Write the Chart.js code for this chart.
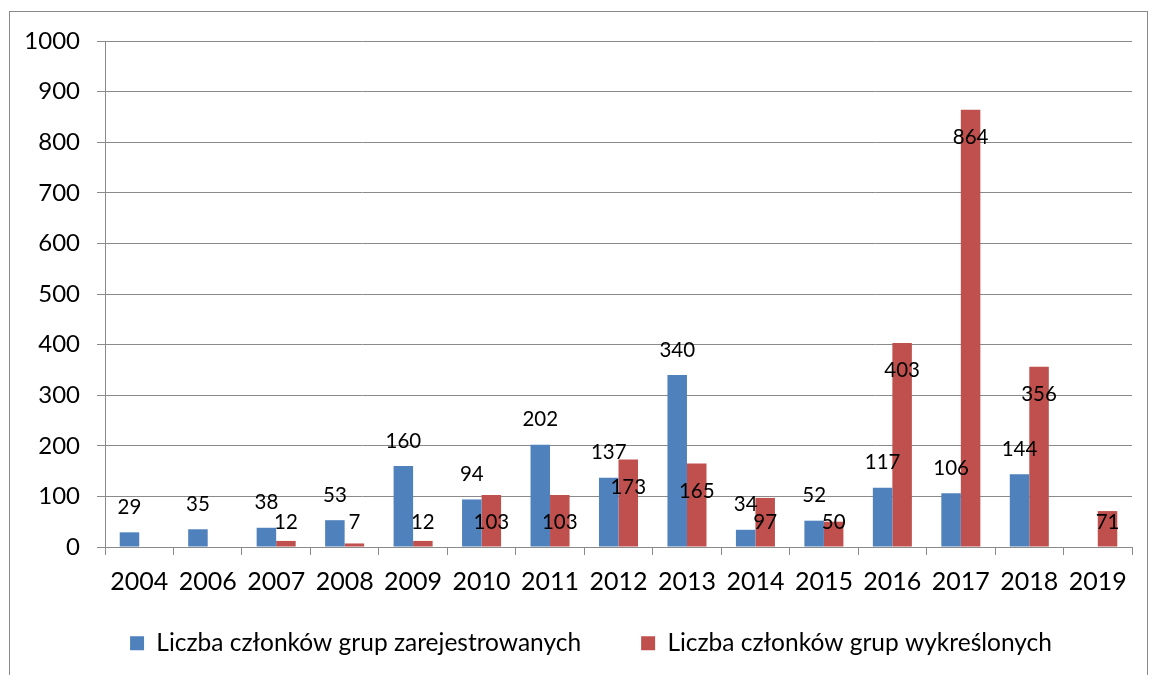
<!DOCTYPE html>
<html>
<head>
<meta charset="utf-8">
<script src="https://cdn.jsdelivr.net/npm/chart.js@4/dist/chart.umd.min.js"></script>
<style>
  html, body { margin: 0; padding: 0; background: #fff; }
  #wrap { position: absolute; left: 0; top: 0; width: 1151px; height: 675px; }
</style>
</head>
<body>
<div id="wrap"><canvas id="chart"></canvas></div>
<script>
const YEARS = ['2004', '2006', '2007', '2008', '2009', '2010', '2011', '2012', '2013', '2014', '2015', '2016', '2017', '2018', '2019'];
const REGISTERED = [29, 35, 38, 53, 160, 94, 202, 137, 340, 34, 52, 117, 106, 144, null];
const REMOVED = [null, null, 12, 7, 12, 103, 103, 173, 165, 97, 50, 403, 864, 356, 71];
const Y_TICKS = [0, 100, 200, 300, 400, 500, 600, 700, 800, 900, 1000];

const BLUE = '#4f81bd';
const RED = '#c0504d';
const GRID = '#8a8a8a';
const FONT = 'Lato, "Open Sans", sans-serif';

Chart.defaults.font.family = FONT;
Chart.defaults.color = '#000';

// outer frame like the Excel chart border
const frame = {
  id: 'frame',
  beforeDraw(chart) {
    const { ctx } = chart;
    ctx.save();
    ctx.strokeStyle = GRID;
    ctx.lineWidth = 1;
    ctx.strokeRect(9.5, 11.5, 1138, 700);
    ctx.restore();
  },
};

// legend sits a bit lower and is centred on the chart body, not the canvas
const legendSpot = {
  id: 'legendSpot',
  afterLayout(chart) {
    const lg = chart.legend;
    if (!lg) return;
    lg.left = 50;
    lg.right = 1132;
    lg.top = 571;
  },
};

// value labels: blue above the bar, red inside the top end
const valueLabels = {
  id: 'valueLabels',
  afterDatasetsDraw(chart) {
    const { ctx } = chart;
    const base = chart.scales.y.getPixelForValue(0);
    ctx.save();
    ctx.font = '20.5px ' + FONT;
    ctx.fillStyle = '#000';
    ctx.textAlign = 'center';
    ctx.textBaseline = 'middle';
    chart.data.datasets.forEach((ds, di) => {
      const meta = chart.getDatasetMeta(di);
      meta.data.forEach((bar, i) => {
        const v = ds.data[i];
        if (v == null) return;
        const y = di === 0 ? bar.y - 25 : Math.min(bar.y + 27.5, base - 24.5);
        ctx.fillText(String(v), bar.x, y);
      });
    });
    ctx.restore();
  },
};

new Chart(document.getElementById('chart'), {
  type: 'bar',
  data: {
    labels: YEARS,
    datasets: [
      { label: 'Liczba członków grup zarejestrowanych', data: REGISTERED, backgroundColor: BLUE },
      { label: 'Liczba członków grup wykreślonych', data: REMOVED, backgroundColor: RED },
    ],
  },
  options: {
    responsive: true,
    maintainAspectRatio: false,
    animation: false,
    datasets: { bar: { categoryPercentage: 0.57, barPercentage: 1.0 } },
    layout: { padding: { left: 0, right: 19, top: 41, bottom: 0 } },
    plugins: {
      tooltip: { enabled: false },
      legend: {
        position: 'bottom',
        maxHeight: 40,
        labels: {
          boxWidth: 14,
          boxHeight: 14,
          padding: 60,
          font: { size: 24.5 },
          color: '#000',
        },
      },
    },
    scales: {
      x: {
        afterFit(scale) { scale.height = 88; },
        border: { color: GRID, width: 1 },
        grid: { offset: true, drawOnChartArea: false, drawTicks: true, tickLength: 8, color: GRID },
        ticks: { font: { size: 25 }, padding: 12, maxRotation: 0, autoSkip: false },
      },
      y: {
        min: 0,
        max: 1000,
        afterFit(scale) { scale.width = 105; },
        afterBuildTicks(scale) { scale.ticks = Y_TICKS.map((v) => ({ value: v })); },
        border: { color: GRID, width: 1 },
        grid: { color: GRID, tickLength: 8 },
        ticks: { font: { size: 24 }, padding: 17, callback: (v) => String(v) },
      },
    },
  },
  plugins: [frame, legendSpot, valueLabels],
});
</script>
</body>
</html>
